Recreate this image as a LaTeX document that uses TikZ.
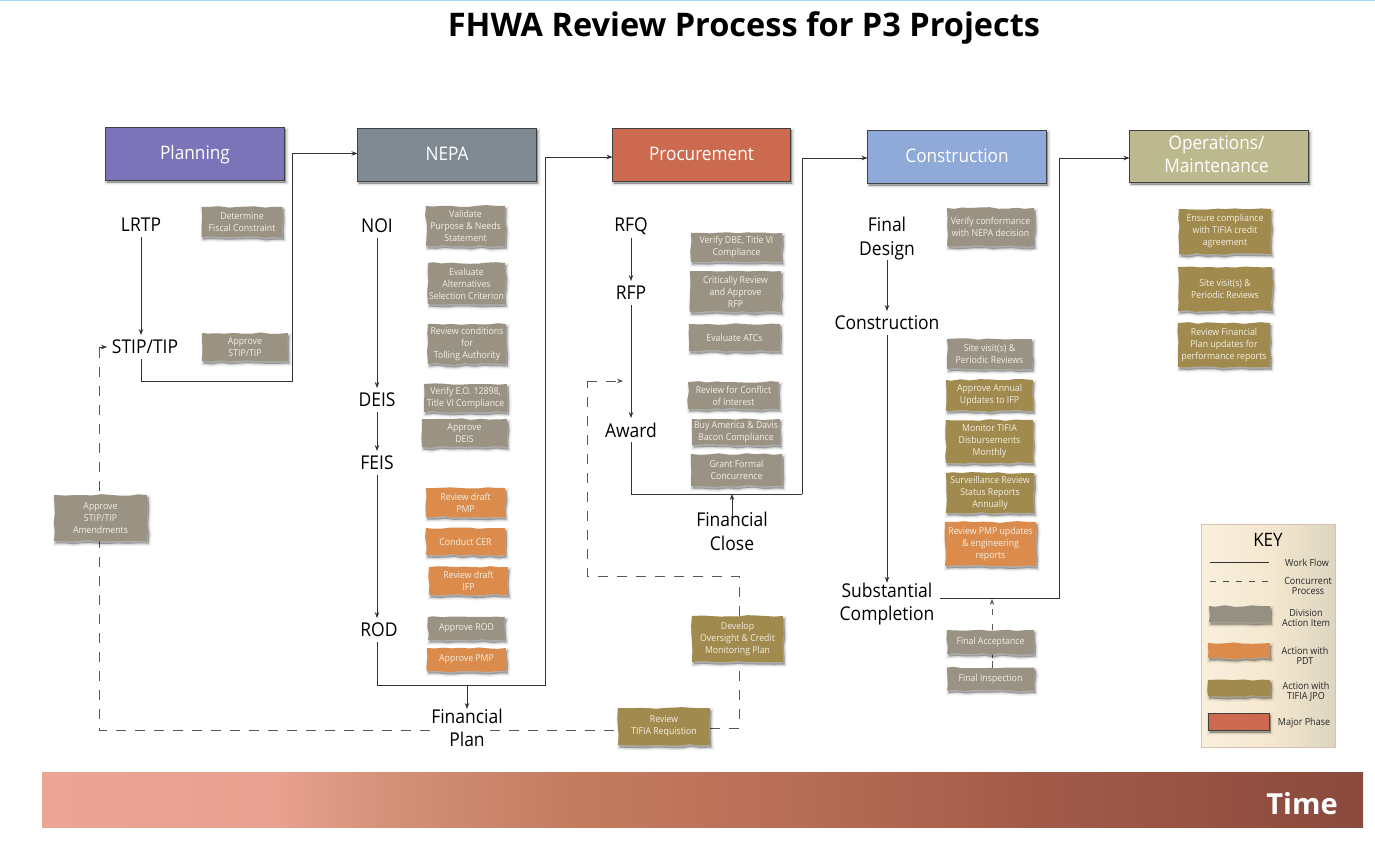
\documentclass[tikz,border=0pt]{standalone}
\usepackage{fontspec}
\setmainfont{Open Sans}[FakeStretch=0.92,BoldFeatures={FakeStretch=1}]
\usetikzlibrary{arrows.meta,decorations.pathmorphing,backgrounds,calc}
\definecolor{gbox}{HTML}{9A9383}
\definecolor{obox}{HTML}{DB8C4C}
\definecolor{tbox}{HTML}{A18A4E}
\definecolor{boxtxt}{HTML}{F3EFE2}
\definecolor{linec}{HTML}{333333}
\definecolor{ebar}{HTML}{ECA495}
\definecolor{ebarb}{HTML}{E8A08F}
\definecolor{ebarc}{HTML}{D3917A}
\definecolor{ebard}{HTML}{C47C60}
\definecolor{ebare}{HTML}{B96F57}
\definecolor{ebarf}{HTML}{A35B49}
\definecolor{ebarr}{HTML}{8A4A3D}
\definecolor{phaseA}{HTML}{7B74B8}
\definecolor{phaseB}{HTML}{7F8A92}
\definecolor{phaseC}{HTML}{CC6A4F}
\definecolor{phaseD}{HTML}{8FA9D8}
\definecolor{phaseE}{HTML}{BDB98F}
\definecolor{keyb}{HTML}{DDBFAF}
\definecolor{keyl}{HTML}{F8EFDC}
\definecolor{keym}{HTML}{F5E8D0}
\definecolor{keyr}{HTML}{DDD5C0}
\pgfdeclarehorizontalshading{timebar}{100bp}{color(0bp)=(ebar); color(25bp)=(ebar); color(34bp)=(ebarb); color(38bp)=(ebarc); color(45bp)=(ebard); color(52.5bp)=(ebare); color(62.5bp)=(ebarf); color(75bp)=(ebarr); color(100bp)=(ebarr)}
\pgfmathsetseed{4242}
\tikzset{
  softshadow/.style={
    preaction={draw=black,fill=black,line width=5pt,opacity=.045,transform canvas={xshift=1.5pt,yshift=-2.5pt}},
    preaction={draw=black,fill=black,line width=3.2pt,opacity=.06,transform canvas={xshift=1.5pt,yshift=-2.5pt}},
    preaction={draw=black,fill=black,line width=1.6pt,opacity=.08,transform canvas={xshift=1.5pt,yshift=-2.5pt}},
    preaction={fill=black,opacity=.12,transform canvas={xshift=1.5pt,yshift=-2.5pt}}},
  torn/.style={softshadow,fill=#1,inner sep=0pt,outer sep=0pt,align=center,text=boxtxt,
    font=\fontsize{9.5}{12}\selectfont,
    decoration={random steps,segment length=9pt,amplitude=.9pt},decorate},
  phase/.style={softshadow,fill=#1,draw=black!75,line width=.9pt,inner sep=0pt,outer sep=0pt,align=center,
    text=white,font=\fontsize{18.7}{23.5}\selectfont},
  oneline/.style={text height=14pt,text depth=3pt},
  stage/.style={inner sep=0pt,outer sep=0pt,minimum height=24pt,align=center,text=black,yshift=-1pt,
    font=\fontsize{19}{23.5}\selectfont},
  keylabel/.style={inner sep=0pt,align=center,text=black!85,yshift=-.7pt,font=\fontsize{9.8}{10}\selectfont},
  flow/.style={draw=linec,line width=.75pt,-{Stealth[length=6pt,width=4.5pt]}},
  flowplain/.style={draw=linec,line width=.75pt},
  concur/.style={draw=black!65,line width=.75pt,dash pattern=on 10pt off 9pt},
}
\newcommand{\tornbox}[8]{\node[torn=#6,minimum width=#4pt,minimum height=#5pt] (#1) at (#2,#3) {#7};}
\begin{document}
\begin{tikzpicture}[x=1pt,y=-1pt]
\useasboundingbox (0,0) rectangle (1375,840);
\begin{scope}[on background layer]
  \fill[white] (0,0) rectangle (1375,840);
\end{scope}
\fill[blue!40!cyan!35] (0,0) rectangle (1375,1);
\node[inner sep=0pt,font=\fontsize{32.5}{36}\selectfont\bfseries] (title) at (744,28) {FHWA Review Process for P3 Projects};

% Time bar
\node[inner sep=0pt,outer sep=0pt,minimum width=1321pt,minimum height=55pt,shading=timebar] (bar) at (702.5,799.5) {};
\node[inner sep=0pt,text=white,font=\fontsize{29}{32}\selectfont\bfseries] (time) at (1302,804) {Time};

% phases
\node[phase=phaseA,oneline,minimum width=179pt,minimum height=53pt] (planning) at (195,153.5) {Planning};
\node[phase=phaseB,oneline,minimum width=179pt,minimum height=53pt] (nepa) at (447,154.5) {NEPA};
\node[phase=phaseC,oneline,minimum width=178pt,minimum height=53pt] (proc) at (701.5,154.5) {Procurement};
\node[phase=phaseD,oneline,minimum width=179pt,minimum height=53pt] (cons) at (957,156.5) {Construction};
\node[phase=phaseE,text depth=4pt,minimum width=179pt,minimum height=52pt] (ops) at (1219,156) {Operations/\hspace*{5pt}\\Maintenance\hspace*{5pt}};

% stages
\node[stage] (lrtp) at (141,224) {LRTP};
\node[stage] (stip) at (145,346) {STIP/TIP};
\node[stage] (noi) at (377,225) {NOI};
\node[stage] (deis) at (377,399) {DEIS};
\node[stage] (feis) at (377,462) {FEIS};
\node[stage] (rod) at (379,629) {ROD};
\node[stage] (fplan) at (467,727) {Financial\\Plan};
\node[stage] (rfq) at (631,225) {RFQ};
\node[stage] (rfp) at (631,292) {RFP};
\node[stage] (award) at (631,429) {Award};
\node[stage] (fclose) at (732,530.5) {Financial\\Close};
\node[stage] (fdesign) at (887,237.5) {Final\\Design};
\node[stage] (constr) at (887,322) {Construction};
\node[stage] (subst) at (887,603) {Substantial\\Completion};

% action boxes
\tornbox{a1}{242}{222}{81}{30}{gbox}{Determine\\Fiscal Constraint}{}
\tornbox{a2}{245}{347}{86}{28}{gbox}{Approve\\STIP/TIP}{}
\tornbox{a3}{465.5}{226}{79}{40}{gbox}{Validate\\Purpose \& Needs\\Statement}{}
\tornbox{a4}{466.5}{283.5}{77}{41}{gbox}{Evaluate\\Alternatives\\Selection Criterion}{}
\tornbox{a5}{467}{344}{78}{40}{gbox}{Review conditions\\for\\Tolling Authority}{}
\tornbox{a6}{465.5}{398}{83}{28}{gbox}{Verify E.O. 12898,\\Title VI Compliance}{}
\tornbox{a7}{464.5}{433}{85}{28}{gbox}{Approve\\DEIS}{}
\tornbox{a8}{465.5}{502.5}{79}{29}{obox}{Review draft\\PMP}{}
\tornbox{a9}{465.5}{541.5}{79}{27}{obox}{Conduct CER}{}
\tornbox{a10}{468.5}{581}{79}{28}{obox}{Review draft\\IFP}{}
\tornbox{a11}{466.5}{628.5}{77}{23}{gbox}{Approve ROD}{}
\tornbox{a12}{466.5}{659.5}{79}{23}{obox}{Approve PMP}{}
\tornbox{a13}{100.5}{518}{93}{46}{gbox}{Approve\\STIP/TIP\\Amendments}{}
\tornbox{a14}{664}{726.5}{92}{37}{tbox}{Review\\TIFIA Requistion}{}
\tornbox{a15}{737.5}{639}{91}{46}{tbox}{Develop\\Oversight \& Credit\\Monitoring Plan}{}
\tornbox{a16}{736.5}{247.5}{91}{29}{gbox}{Verify DBE, Title VI\\Compliance}{}
\tornbox{a17}{735.5}{291.5}{91}{41}{gbox}{Critically Review\\and Approve\\RFP}{}
\tornbox{a18}{734.5}{337.5}{91}{27}{gbox}{Evaluate ATCs}{}
\tornbox{a19}{733.5}{395.5}{91}{27}{gbox}{Review for Conflict\\of Interest}{}
\tornbox{a20}{736}{432}{88}{26}{gbox}{Buy America \& Davis\\Bacon Compliance}{}
\tornbox{a21}{736.5}{470}{91}{32}{gbox}{Grant Formal\\Concurrence}{}
\tornbox{a22}{990.5}{227}{87}{38}{gbox}{Verify  conformance\\with NEPA decision}{}
\tornbox{a23}{989.5}{354}{85}{30}{gbox}{Site visit(s) \&\\Periodic Reviews}{}
\tornbox{a24}{989.5}{395.5}{87}{31}{tbox}{Approve Annual\\Updates to IFP}{}
\tornbox{a25}{989.5}{441.5}{87}{43}{tbox}{Monitor  TIFIA\\Disbursements\\Monthly}{}
\tornbox{a26}{990}{493}{88}{40}{tbox}{Surveillance  Review\\Status Reports\\Annually}{}
\tornbox{a27}{990.5}{544}{91}{44}{obox}{Review PMP updates\\\& engineering\\reports}{}
\tornbox{a28}{990.5}{642}{87}{24}{gbox}{Final Acceptance}{}
\tornbox{a29}{990.5}{679}{87}{23}{gbox}{Final Inspection}{}
\tornbox{a30}{1225}{231.5}{92}{45}{tbox}{Ensure compliance\\with TIFIA credit\\agreement}{}
\tornbox{a31}{1225}{289}{94}{44}{tbox}{Site visit(s) \&\\Periodic Reviews}{}
\tornbox{a32}{1224}{345}{92}{44}{tbox}{Review Financial\\Plan updates for\\performance reports}{}

% connectors
\coordinate (c1) at (292,381);
\coordinate (c2) at (545,685);
\coordinate (c3) at (802,494);
\coordinate (c4) at (1059,598);
\coordinate (c5) at (99,730);
\coordinate (c6) at (739,728);
\coordinate (c7) at (739,576);
\coordinate (c8) at (587,576);
\coordinate (c9) at (587,381);
\coordinate (c10) at (623,381);
\coordinate (c11) at (107,347);
\coordinate (c12) at (992,599);
\coordinate (c13) at (940,598);
\coordinate (c14) at (430,730);
\coordinate (c15) at (490,730);
\begin{scope}[on background layer]
  \draw[flow] (lrtp.south) -- (lrtp.south |- stip.north);
  \draw[flow] (lrtp.south |- stip.south) |- (c1) |- (planning.east -| nepa.west);
  \draw[flow] (noi.south) -- (deis.north);
  \draw[flow] (deis.south) -- (feis.north);
  \draw[flow] (feis.south) -- (feis.south |- rod.north);
  \draw[flow] (rod.south -| feis.south) |- (c2) |- ([yshift=-2.5pt]proc.west);
  \draw[flow] (fplan.north |- c2) -- (fplan.north);
  \draw[flow] (rfq.south) -- (rfp.north);
  \draw[flow] (rfp.south) -- (award.north);
  \draw[flowplain] (award.south) |- (c3);
  \draw[flow] (c3) |- ([yshift=-1.5pt]cons.west);
  \draw[flow] ([yshift=-5pt]fclose.north) -- (fclose.north |- c3);
  \draw[flow] (fdesign.south) -- (constr.north);
  \draw[flow] (constr.south) -- (subst.north);
  \draw[flow] (c13) -| (c4) |- ([yshift=-2pt]ops.west);
  \draw[concur] (c14) -- (c5) -- (c5 |- c11);
  \draw[flow] (c5 |- c11) -- (c11);
  \draw[concur] (c15) -- (c15 -| a14.west);
  \draw[concur] (c6 -| a14.east) -- (c6) -- (a15.south -| c6);
  \draw[concur] (a15.north -| c6) -- (c7) -- (c8) -- (c9);
  \draw[concur,-{Stealth[length=6pt,width=4.5pt]}] (c9) -- (c10);
  \draw[concur,dash pattern=on 7pt off 3pt] (a29.north -| c12) -- (a28.south -| c12);
  \draw[concur,dash pattern=on 6pt off 9pt,-{Stealth[length=6pt,width=4.5pt]}] (a28.north -| c12) -- (c12);
\end{scope}

% key
\node[inner sep=0pt,outer sep=0pt,minimum width=134pt,minimum height=223pt,draw=keyb,line width=.8pt,left color=keyl,right color=keyr,middle color=keym] (keybg) at (1268,635.5) {};
\node[inner sep=0pt,font=\fontsize{18.5}{20}\selectfont] (keyt) at (1268,540) {KEY};
\coordinate (k1) at (1210,562); \coordinate (k2) at (1269,562);
\coordinate (k3) at (1210,581); \coordinate (k4) at (1269,581);
\draw[flowplain] (k1) -- (k2);
\draw[draw=black!70,line width=.75pt,dash pattern=on 6pt off 7pt] (k3) -- (k4);
\node[keylabel] (kl1) at (1307,562) {Work Flow};
\node[keylabel] (kl2) at (1308,585) {Concurrent\\Process};
\tornbox{kb1}{1239.5}{614}{61}{16}{gbox!85!gray}{}{}
\node[keylabel] (kl3) at (1306,617) {Division\\Action Item};
\tornbox{kb2}{1239}{650.5}{62}{15}{obox}{}{}
\node[keylabel] (kl4) at (1305,655) {Action with\\PDT};
\tornbox{kb3}{1239}{688}{62}{16}{tbox}{}{}
\node[keylabel] (kl5) at (1306,691) {Action with\\TIFIA JPO};
\node[phase=phaseC,minimum width=61pt,minimum height=17pt] (kb4) at (1238.5,721.5) {};
\node[keylabel] (kl6) at (1304,722) {Major Phase};
\end{tikzpicture}
\end{document}
